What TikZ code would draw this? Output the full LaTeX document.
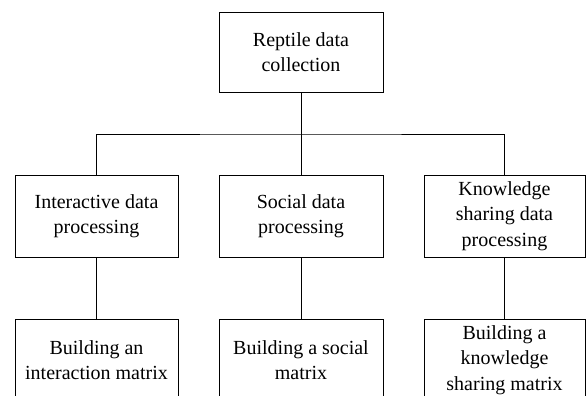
\documentclass[tikz,border=0pt]{standalone}
\usepackage{fontspec}
\setmainfont{Liberation Serif}
\begin{document}
\begin{tikzpicture}[x=1pt,y=-1pt,
  box/.style={draw,line width=0.9pt,inner sep=0pt,align=center,
    font=\fontsize{20}{25.5}\selectfont},
  conn/.style={line width=0.9pt}]
\clip (0,0) rectangle (586,396);
\fill[white] (0,0) rectangle (586,396);
\node[box,minimum width=164pt,minimum height=80pt] (top) at (301,52) {Reptile data\\collection};
\node[box,minimum width=163pt,minimum height=82pt] (m1) at (96.5,216) {Interactive data\\processing};
\node[box,minimum width=164pt,minimum height=82pt] (m2) at (301,216) {Social data\\processing};
\node[box,minimum width=161pt,minimum height=82pt] (m3) at (504.5,216) {Knowledge\\sharing data\\processing};
\node[box,minimum width=163pt,minimum height=82pt] (b1) at (96.5,360) {Building an\\interaction matrix};
\node[box,minimum width=164pt,minimum height=82pt] (b2) at (301,360) {Building a social\\matrix};
\node[box,minimum width=161pt,minimum height=82pt] (b3) at (504.5,360) {Building a\\knowledge\\sharing matrix};
\coordinate (bus) at (301,134);
\draw[conn] (top.south) -- (bus);
\draw[conn] (m1.north) |- (bus) -| (m3.north);
\draw[conn] (bus) -- (m2.north);
\draw[conn] (m1.south) -- (b1.north);
\draw[conn] (m2.south) -- (b2.north);
\draw[conn] (m3.south) -- (b3.north);
\end{tikzpicture}
\end{document}
